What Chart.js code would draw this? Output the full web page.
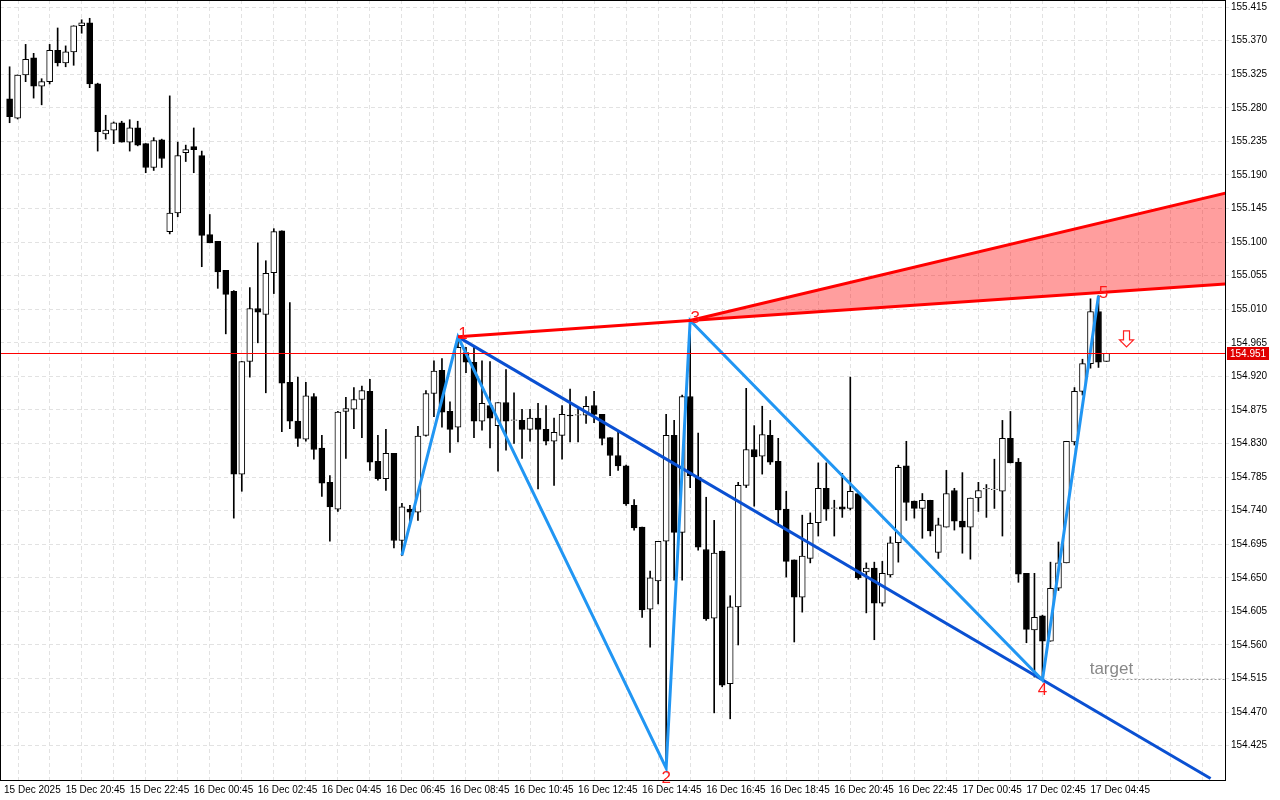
<!DOCTYPE html>
<html>
<head>
<meta charset="utf-8">
<script src="https://cdn.jsdelivr.net/npm/chart.js@4.4.1/dist/chart.umd.min.js"></script>
<style>
  html, body { margin: 0; padding: 0; background: #fff; }
  #wrap { width: 1280px; height: 800px; }
</style>
</head>
<body>
<div id="wrap"><canvas id="c" width="1280" height="800"></canvas></div>
<script>
// 15 min candles, USDJPY style quotes
const opens = [155.292,155.266,155.324,155.347,155.309,155.315,155.357,155.340,155.355,155.390,
155.394,155.312,155.245,155.250,155.260,155.234,155.253,155.232,155.200,155.237,
155.114,155.139,155.220,155.228,155.216,155.110,155.101,155.062,155.034,154.789,
154.940,155.011,155.003,155.059,155.115,154.912,154.860,154.836,154.893,154.824,
154.778,154.742,154.873,154.876,154.889,154.900,154.806,154.783,154.817,154.700,
154.742,154.738,154.841,154.897,154.928,154.873,154.852,154.952,154.939,154.860,
154.881,154.854,154.885,154.861,154.861,154.849,154.864,154.849,154.833,154.841,
154.868,154.868,154.868,154.881,154.869,154.838,154.814,154.800,154.747,154.718,
154.608,154.646,154.699,154.841,154.711,154.893,154.785,154.688,154.596,154.686,
154.508,154.611,154.774,154.822,154.813,154.841,154.806,154.742,154.674,154.624,
154.676,154.724,154.770,154.743,154.745,154.743,154.763,154.658,154.663,154.616,
154.654,154.697,154.800,154.753,154.743,154.754,154.684,154.718,154.767,154.726,
154.718,154.757,154.769,154.768,154.766,154.837,154.805,154.656,154.580,154.599,
154.565,154.636,154.670,154.832,154.900,154.937,155.007,154.940];
const highs = [155.335,155.324,155.365,155.353,155.319,155.365,155.387,155.363,155.390,155.398,
155.400,155.313,155.270,155.261,155.262,155.264,155.262,155.232,155.240,155.238,
155.296,155.234,155.230,155.253,155.222,155.137,155.101,155.062,155.035,154.940,
155.039,155.099,155.075,155.118,155.115,155.019,154.919,154.912,154.897,154.841,
154.787,154.873,154.892,154.905,154.907,154.916,154.841,154.849,154.817,154.750,
154.747,154.853,154.901,154.941,154.944,154.886,154.972,154.959,154.959,154.941,
154.940,154.885,154.929,154.898,154.876,154.876,154.884,154.881,154.864,154.881,
154.903,154.878,154.893,154.900,154.869,154.838,154.845,154.801,154.755,154.718,
154.659,154.699,154.869,154.861,154.895,154.994,154.844,154.758,154.727,154.686,
154.626,154.778,154.904,154.854,154.880,154.861,154.837,154.766,154.674,154.734,
154.737,154.804,154.804,154.754,154.790,154.919,154.763,154.670,154.671,154.672,
154.705,154.801,154.833,154.753,154.763,154.754,154.730,154.794,154.770,154.791,
154.757,154.778,154.775,154.809,154.861,154.873,154.810,154.656,154.656,154.600,
154.671,154.698,154.833,154.905,154.943,155.024,155.028,154.951];
const lows = [155.260,155.265,155.315,155.293,155.284,155.312,155.336,155.335,155.337,155.380,
155.307,155.222,155.238,155.232,155.234,155.222,155.229,155.193,155.196,155.200,
155.111,155.134,155.208,155.193,155.067,155.099,155.038,154.977,154.730,154.766,
154.919,154.965,154.898,155.031,154.846,154.850,154.826,154.833,154.809,154.759,
154.699,154.739,154.810,154.850,154.838,154.794,154.781,154.767,154.690,154.680,
154.725,154.727,154.840,154.866,154.852,154.818,154.832,154.925,154.838,154.848,
154.824,154.793,154.821,154.830,154.810,154.833,154.769,154.828,154.774,154.809,
154.832,154.832,154.857,154.858,154.828,154.787,154.794,154.747,154.714,154.597,
154.557,154.615,154.395,154.647,154.647,154.771,154.687,154.593,154.469,154.504,
154.461,154.560,154.771,154.746,154.789,154.802,154.723,154.651,154.564,154.604,
154.670,154.706,154.727,154.706,154.731,154.741,154.648,154.603,154.567,154.612,
154.651,154.671,154.727,154.730,154.703,154.706,154.676,154.718,154.714,154.683,
154.675,154.739,154.731,154.743,154.706,154.804,154.644,154.563,154.517,154.513,
154.565,154.633,154.670,154.828,154.895,154.931,154.932,154.940];
const closes = [155.268,155.324,155.345,155.309,155.315,155.357,155.340,155.355,155.390,155.394,
155.312,155.248,155.250,155.260,155.234,155.253,155.230,155.200,155.236,155.212,
155.139,155.216,155.224,155.224,155.109,155.099,155.060,155.030,154.789,154.940,
155.011,155.006,155.058,155.114,154.911,154.860,154.837,154.894,154.822,154.777,
154.745,154.872,154.877,154.889,154.901,154.805,154.783,154.817,154.700,154.745,
154.738,154.840,154.897,154.927,154.872,154.849,154.959,154.939,154.860,154.884,
154.864,154.885,154.860,154.861,154.849,154.864,154.849,154.833,154.845,154.869,
154.867,154.868,154.880,154.869,154.837,154.814,154.800,154.749,154.717,154.607,
154.650,154.699,154.841,154.711,154.893,154.787,154.691,154.595,154.683,154.506,
154.611,154.774,154.822,154.812,154.842,154.805,154.741,154.672,154.624,154.679,
154.723,154.770,154.742,154.743,154.742,154.766,154.650,154.663,154.616,154.656,
154.697,154.798,154.751,154.743,154.754,154.713,154.721,154.763,154.726,154.718,
154.757,154.767,154.769,154.769,154.837,154.804,154.655,154.581,154.597,154.565,
154.636,154.670,154.833,154.900,154.937,155.007,154.939,154.951];

const lastPrice = 154.951;
const yTicks = [155.415,155.370,155.325,155.280,155.235,155.190,155.145,155.100,155.055,155.010,
154.965,154.920,154.875,154.830,154.785,154.740,154.695,154.650,154.605,154.560,154.515,154.470,154.425];
const xTickIdx = [-0.7,7,15,23,31,39,47,55,63,71,79,87,95,103,111,119,127,135];
const xTickText = ["15 Dec 2025","15 Dec 20:45","15 Dec 22:45","16 Dec 00:45","16 Dec 02:45","16 Dec 04:45",
"16 Dec 06:45","16 Dec 08:45","16 Dec 10:45","16 Dec 12:45","16 Dec 14:45","16 Dec 16:45","16 Dec 18:45",
"16 Dec 20:45","16 Dec 22:45","17 Dec 00:45","17 Dec 02:45","17 Dec 04:45"];

// wave pivots 0..5
const zigIdx = [49, 56, 82, 85, 129, 136];
const zigPrice = [154.680, 154.973, 154.395, 154.995, 154.513, 155.028];
const zigText = ["", "1", "2", "3", "4", "5"];
// 1-4 line, 1-3 line, 3-5 line
const line14 = [[56, 154.973], [150, 154.381]];
const line13 = [[56, 154.973], [85, 154.995], [152, 155.044]];
const line35 = [[85, 154.995], [152, 155.166]];
const targetPrice = 154.515;

const xMin = -1.2, xMax = 151.8;
const pts = a => a.map(p => ({x: p[0], y: p[1]}));

const idx = opens.map((_, i) => i);
const wickData = idx.map(i => ({x: i, y: [lows[i], highs[i]]}));
const bodyData = idx.map(i => {
  let lo = Math.min(opens[i], closes[i]), hi = Math.max(opens[i], closes[i]);
  if (hi - lo < 0.0008) hi = lo + 0.0008;
  return {x: i, y: [lo, hi]};
});
const bodyColor = idx.map(i => closes[i] >= opens[i] ? "#ffffff" : "#000000");

const overlay = {
  id: "overlay",
  afterDatasetsDraw(chart) {
    const ctx = chart.ctx, a = chart.chartArea, x = chart.scales.x, y = chart.scales.y;
    ctx.save();
    // last price line
    const lp = Math.round(y.getPixelForValue(lastPrice));
    ctx.fillStyle = "#ff0000";
    ctx.fillRect(a.left, lp, a.right - a.left, 1);
    // pivot numbers
    ctx.font = "17px 'Liberation Sans'";
    ctx.fillStyle = "#ff1a1a";
    ctx.textAlign = "center";
    zigText.forEach((t, k) => {
      if (!t) return;
      const px = x.getPixelForValue(zigIdx[k]), pyy = y.getPixelForValue(zigPrice[k]);
      const up = k === 2 || k === 4;
      ctx.textBaseline = up ? "top" : "bottom";
      ctx.fillText(t, px + (up ? 0 : 5), pyy + (up ? 2 : 6));
    });
    // target
    const ty = Math.round(y.getPixelForValue(targetPrice)) + 0.5;
    ctx.strokeStyle = "#999";
    ctx.setLineDash([2, 2]);
    ctx.beginPath(); ctx.moveTo(x.getPixelForValue(137.5), ty); ctx.lineTo(a.right, ty); ctx.stroke();
    ctx.setLineDash([]);
    ctx.fillStyle = "#888";
    ctx.font = "17px 'Liberation Sans'";
    ctx.textAlign = "left"; ctx.textBaseline = "bottom";
    ctx.fillText("target", x.getPixelForValue(134.9), ty - 2);
    // sell arrow
    const ax = x.getPixelForValue(139.5), ay = y.getPixelForValue(154.981);
    ctx.beginPath();
    ctx.moveTo(ax - 3, ay); ctx.lineTo(ax + 3, ay); ctx.lineTo(ax + 3, ay + 9);
    ctx.lineTo(ax + 7, ay + 9); ctx.lineTo(ax, ay + 16); ctx.lineTo(ax - 7, ay + 9);
    ctx.lineTo(ax - 3, ay + 9); ctx.closePath();
    ctx.fillStyle = "#ffffff"; ctx.fill();
    ctx.strokeStyle = "#ff2020"; ctx.lineWidth = 1.2; ctx.stroke();
    // frame
    ctx.strokeStyle = "#000"; ctx.lineWidth = 1;
    ctx.strokeRect(a.left + 0.5, a.top + 0.5, a.right - a.left, a.bottom - a.top);
    // price tag
    ctx.fillStyle = "#e00000";
    ctx.fillRect(a.right + 2, lp - 6, 42, 13);
    ctx.fillStyle = "#fff";
    ctx.font = "10px 'Liberation Sans'";
    ctx.textBaseline = "middle"; ctx.textAlign = "left";
    ctx.fillText(lastPrice.toFixed(3), a.right + 5, lp + 1);
    ctx.restore();
  }
};

new Chart(document.getElementById("c"), {
  type: "bar",
  data: {
    datasets: [
      {type: "line", data: pts(line35), borderColor: "#ff0000", borderWidth: 3, pointRadius: 0,
       fill: {target: 1}, backgroundColor: "rgba(255,0,0,0.38)", order: 1},
      {type: "line", data: pts([line13[1], line13[2]]), borderWidth: 0, pointRadius: 0, order: 9},
      {data: wickData, backgroundColor: "#000", barThickness: 1, grouped: false, order: 5},
      {data: bodyData, backgroundColor: bodyColor, borderColor: "#000", borderWidth: 1,
       borderSkipped: false, barThickness: 6, grouped: false, order: 4},
      {type: "line", data: pts(line13), borderColor: "#ff0000", borderWidth: 3, pointRadius: 0, order: 1},
      {type: "line", data: pts(line14), borderColor: "#0a50d2", borderWidth: 3, pointRadius: 0, order: 2},
      {type: "line", data: zigIdx.map((v, k) => ({x: v, y: zigPrice[k]})), borderColor: "#2196f3",
       borderWidth: 3, pointRadius: 0, order: 1}
    ]
  },
  options: {
    responsive: false,
    devicePixelRatio: 1,
    animation: false,
    layout: {padding: 0},
    plugins: {legend: {display: false}, tooltip: {enabled: false}},
    scales: {
      x: {
        type: "linear", min: xMin, max: xMax, offset: false,
        afterBuildTicks: s => { const t = []; for (let v = 3; v < xMax; v += 4) t.push({value: v}); t.unshift({value: -0.7}); s.ticks = t; },
        afterFit: s => { s.height = 20; s.paddingLeft = 0; s.paddingRight = 0; },
        grid: {color: "#e2e2e2", drawTicks: false},
        border: {display: false, dash: [4, 3]},
        ticks: {
          autoSkip: false, maxRotation: 0, align: "start", padding: 4,
          color: "#000", font: {family: "Liberation Sans", size: 10},
          callback: v => { const k = xTickIdx.indexOf(v); return k >= 0 ? xTickText[k] : ""; }
        }
      },
      y: {
        position: "right", min: 154.379, max: 155.4245,
        afterBuildTicks: s => { s.ticks = yTicks.map(v => ({value: v})); },
        afterFit: s => { s.width = 55; s.paddingTop = 0; s.paddingBottom = 0; },
        grid: {color: "#e2e2e2", tickLength: 4},
        border: {display: false, dash: [4, 3]},
        ticks: {color: "#000", padding: 2, font: {family: "Liberation Sans", size: 10},
                callback: v => v.toFixed(3)}
      }
    }
  },
  plugins: [overlay]
});
</script>
</body>
</html>
